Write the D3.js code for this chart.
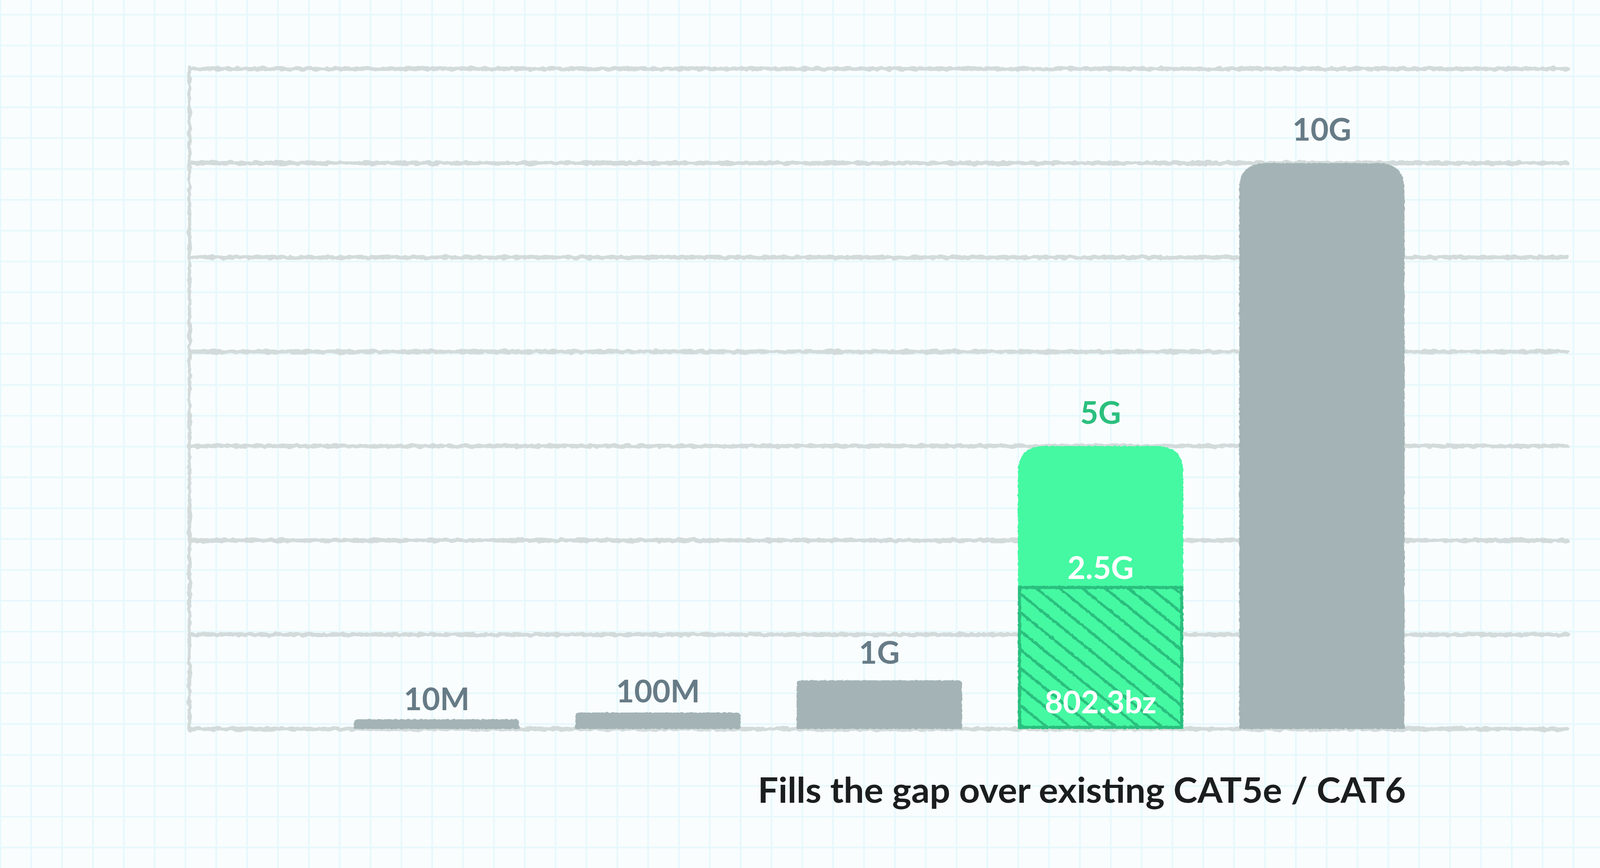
<!DOCTYPE html>
<html>
<head>
<meta charset="utf-8">
<script src="https://cdn.jsdelivr.net/npm/d3@7"></script>
<style>
  html, body { margin: 0; padding: 0; background: #f9fdfe; }
  svg { display: block; }
  text { font-family: Lato, "Open Sans", sans-serif; font-weight: 700; }
</style>
</head>
<body>
<div id="chart"></div>
<script>
"use strict";

// --- data ---
const speeds = ["10M", "100M", "1G", "5G", "10G"];
const barValues = [0.17, 0.29, 0.86, 5, 10];        // bar heights, in G (as drawn)
const highlight = "5G";
const hatchValue = 2.5;                               // 802.3bz part of the 5G bar
const innerLabels = ["2.5G", "802.3bz"];
const yTicks = [0, 5 / 3, 10 / 3, 5, 20 / 3, 25 / 3, 10, 35 / 3];
const caption = "Fills the gap over existing CAT5e / CAT6";

// --- layout ---
const W = 4501, H = 2222;
const M = { left: 485, right: 4012, top: 176, bottom: 1866 };
const C = {
  bg: "#f9fdfe", paper: "#e6f8fc", frame: "#d3dbda",
  bar: "#a4b4b6", label: "#667b86",
  green: "#45f8a2", darkGreen: "#2bbf7e", caption: "#1b1e1e"
};

const svg = d3.select("#chart").append("svg").attr("width", W).attr("height", H);
const defs = svg.append("defs");

// hand-drawn look
function roughFilter(id, freq, scale) {
  const f = defs.append("filter").attr("id", id)
    .attr("filterUnits", "userSpaceOnUse")
    .attr("x", 0).attr("y", 0).attr("width", W).attr("height", H);
  f.append("feTurbulence").attr("type", "fractalNoise").attr("baseFrequency", freq)
    .attr("numOctaves", 2).attr("seed", 7).attr("result", "noise");
  f.append("feDisplacementMap").attr("in", "SourceGraphic").attr("in2", "noise")
    .attr("scale", scale).attr("xChannelSelector", "R").attr("yChannelSelector", "G");
}
roughFilter("roughLine", 0.06, 10);
roughFilter("roughBar", 0.12, 5);

const hatch = defs.append("pattern").attr("id", "hatch")
  .attr("patternUnits", "userSpaceOnUse").attr("width", 37).attr("height", 37)
  .attr("patternTransform", "rotate(39)");
hatch.append("rect").attr("width", 37).attr("height", 37).attr("fill", C.green);
hatch.append("line").attr("x1", -2).attr("x2", 39).attr("y1", 18.5).attr("y2", 18.5)
  .attr("stroke", C.darkGreen).attr("stroke-width", 7);

// paper background
svg.append("rect").attr("width", W).attr("height", H).attr("fill", C.bg);
const paper = svg.append("g").attr("stroke", C.paper).attr("stroke-width", 4);
paper.selectAll("line.v").data(d3.range(1, W, 78.96)).join("line").attr("class", "v")
  .attr("x1", d => d).attr("x2", d => d).attr("y1", 0).attr("y2", H);
paper.selectAll("line.h").data(d3.range(37.7, H, 78.96)).join("line").attr("class", "h")
  .attr("y1", d => d).attr("y2", d => d).attr("x1", 0).attr("x2", W);

// scales
const x = d3.scaleBand().domain(speeds)
  .range([834.75, 3667.25]).paddingInner(0.253).paddingOuter(0.1265);
const y = d3.scaleLinear().domain([0, 35 / 3]).range([M.bottom, M.top]);

// gridlines + left edge
const grid = svg.append("g").attr("filter", "url(#roughLine)")
  .attr("stroke", C.frame).attr("stroke-width", 11).attr("stroke-linecap", "round");
grid.selectAll("line.g").data(yTicks).join("line").attr("class", "g")
  .attr("x1", M.left).attr("x2", M.right)
  .attr("y1", d => y(d)).attr("y2", d => y(d));
grid.append("line").attr("x1", M.left).attr("x2", M.left)
  .attr("y1", y(yTicks[yTicks.length - 1]) - 4).attr("y2", y(0) + 4)
  .attr("stroke-width", 9);

// bar path with rounded top corners
function barPath(x0, w, top, bottom) {
  const h = bottom - top;
  const r = h > 300 ? 68 : Math.min(10, h / 2);
  return `M${x0},${bottom}V${top + r}Q${x0},${top} ${x0 + r},${top}` +
    `H${x0 + w - r}Q${x0 + w},${top} ${x0 + w},${top + r}V${bottom}Z`;
}

const data = speeds.map((s, i) => ({ s, v: barValues[i] }));
const bars = svg.append("g").attr("filter", "url(#roughBar)");
bars.selectAll("path").data(data).join("path")
  .attr("d", d => barPath(x(d.s), x.bandwidth(), y(d.v), y(0)))
  .attr("fill", d => d.s === highlight ? C.green : C.bar);

// hatched 802.3bz segment
bars.append("rect")
  .attr("x", x(highlight) + 4).attr("width", x.bandwidth() - 8)
  .attr("y", y(hatchValue)).attr("height", y(0) - y(hatchValue) - 4)
  .attr("fill", "url(#hatch)")
  .attr("stroke", C.darkGreen).attr("stroke-width", 8);

// value labels
svg.append("g").selectAll("text").data(data).join("text")
  .attr("x", d => x(d.s) + x.bandwidth() / 2)
  .attr("y", d => {
    const h = y(0) - y(d.v);
    return y(d.v) - Math.min(57, 18 + h * 0.2);
  })
  .attr("text-anchor", "middle").attr("font-size", 80)
  .attr("fill", d => d.s === highlight ? C.darkGreen : C.label)
  .text(d => d.s);

const cx = x(highlight) + x.bandwidth() / 2;
svg.append("text").attr("x", cx).attr("y", y(hatchValue) - 22)
  .attr("text-anchor", "middle").attr("font-size", 80).attr("fill", "#fff")
  .text(innerLabels[0]);
svg.append("text").attr("x", cx).attr("y", y(0) - 40)
  .attr("text-anchor", "middle").attr("font-size", 80).attr("fill", "#fff")
  .text(innerLabels[1]);

// caption
svg.append("text").attr("x", 1940).attr("y", 2055)
  .attr("font-size", 90).attr("fill", C.caption)
  .attr("textLength", 1659).attr("lengthAdjust", "spacingAndGlyphs")
  .text(caption);
</script>
</body>
</html>
